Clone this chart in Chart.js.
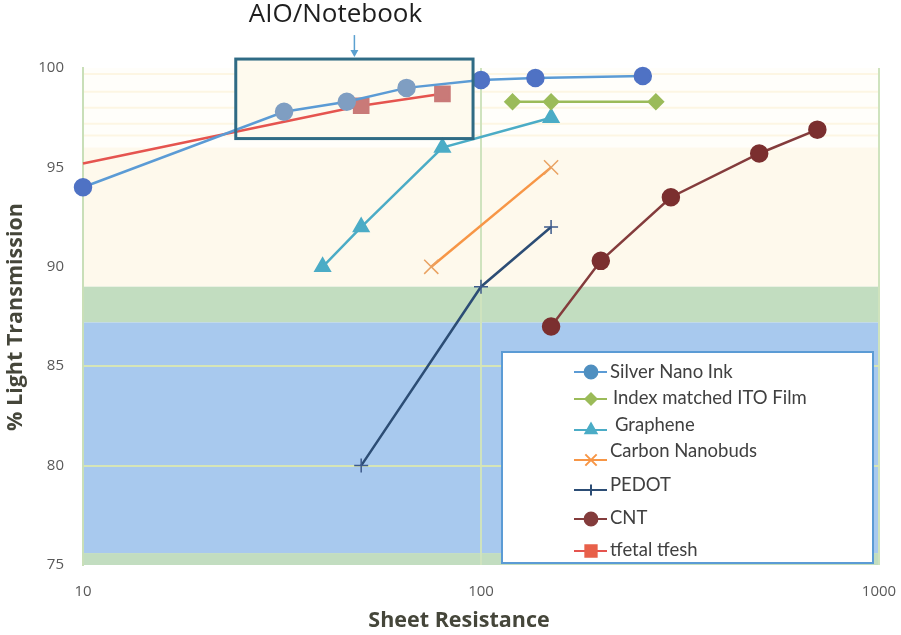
<!DOCTYPE html>
<html>
<head>
<meta charset="utf-8">
<script src="https://cdn.jsdelivr.net/npm/chart.js@4.4.0/dist/chart.umd.min.js"></script>
<style>
  html, body { margin: 0; padding: 0; background: #ffffff; }
  #wrap { width: 901px; height: 635px; position: relative; }
</style>
</head>
<body>
<div id="wrap"><canvas id="c" width="901" height="635"></canvas></div>
<script>
// ---- data ----
const seriesNames = ["Silver Nano Ink", "Index matched ITO Film", "Graphene", "Carbon Nanobuds", "PEDOT", "CNT", "tfetal tfesh"];
const silverX = [10, 32, 46, 65, 100, 137, 255];
const silverY = [94.0, 97.8, 98.3, 99.0, 99.4, 99.5, 99.6];
const itoX = [120, 150, 275];
const itoY = [98.3, 98.3, 98.3];
const grapheneX = [40, 50, 80, 150];
const grapheneY = [90.0, 92.0, 96.0, 97.5];
const nanobudsX = [75, 150];
const nanobudsY = [90.0, 95.0];
const pedotX = [50, 100, 150];
const pedotY = [80.0, 89.0, 92.0];
const cntX = [150, 200, 300, 500, 700];
const cntY = [87.0, 90.3, 93.5, 95.7, 96.9];
const tfeshX = [10, 50, 80];
const tfeshY = [95.2, 98.1, 98.7];
const xTickLabels = [10, 100, 1000];
const yMin = 75, yMax = 100, yStep = 5;
// background bands (value ranges)
const bands = [
  { from: 96.0, to: 100, color: "#FFFEFA" },
  { from: 89.0, to: 96.0, color: "#FEF9EC" },
  { from: 87.2, to: 89.0, color: "#C2DDC0" },
  { from: 75.6, to: 87.2, color: "#A8C9EE" },
  { from: 75.0, to: 75.6, color: "#C2DDC0" }
];
// AIO/Notebook highlight box in data units
const boxX = [24.2, 95.5];
const boxY = [96.45, 100.45];
const boxLabel = "AIO/Notebook";

function pts(xs, ys) { return xs.map((x, i) => ({ x: x, y: ys[i] })); }
function inBox(v) { return v && v.x >= boxX[0] && v.x <= boxX[1]; }

const datasets = [
  { label: seriesNames[0], data: pts(silverX, silverY), borderColor: "#5B9BD5", borderWidth: 2.5,
    pointStyle: "circle", pointRadius: 8,
    pointBackgroundColor: c => inBox(c.raw) ? "#7F9EC2" : "#4F72C4",
    pointBorderColor: c => inBox(c.raw) ? "#7F9EC2" : "#4F72C4", legendColor: "#4F8FC0" },
  { label: seriesNames[1], data: pts(itoX, itoY), borderColor: "#9BBB59", borderWidth: 2.5,
    pointStyle: "rectRot", pointRadius: 7, pointBackgroundColor: "#9BBB59", pointBorderColor: "#9BBB59" },
  { label: seriesNames[2], data: pts(grapheneX, grapheneY), borderColor: "#4BACC6", borderWidth: 2.5,
    pointStyle: "triangle", pointRadius: 8, pointBackgroundColor: "#4BACC6", pointBorderColor: "#4BACC6" },
  { label: seriesNames[3], data: pts(nanobudsX, nanobudsY), borderColor: "#F79646", borderWidth: 2.5,
    pointStyle: "crossRot", pointRadius: 10, pointBackgroundColor: "#F0A060", pointBorderColor: "#E9A262", pointBorderWidth: 1.5 },
  { label: seriesNames[4], data: pts(pedotX, pedotY), borderColor: "#2C4D75", borderWidth: 2.5,
    pointStyle: "cross", pointRadius: 7, pointBackgroundColor: "#3D5A8A", pointBorderColor: "#3D5A8A", pointBorderWidth: 1.5 },
  { label: seriesNames[5], data: pts(cntX, cntY), borderColor: "#843C3C", borderWidth: 2.5,
    pointStyle: "circle", pointRadius: 8, pointBackgroundColor: "#7B2F2F", pointBorderColor: "#7B2F2F" },
  { label: seriesNames[6], data: pts(tfeshX, tfeshY), borderColor: "#E5544F", borderWidth: 2.5,
    pointStyle: "rect", pointRadius: [0, 10, 10], pointBackgroundColor: "#C97A78", pointBorderColor: "#C97A78",
    legendColor: "#E8604A" }
];
datasets.forEach(d => { d.showLine = true; d.clip = false; d.tension = 0; d.pointHoverRadius = d.pointRadius; });

const AREA = { left: 83, right: 879, top: 68, bottom: 565 };

const bgPlugin = {
  id: "bg",
  beforeDraw(chart) {
    const { ctx, chartArea: a, scales: { x, y } } = chart;
    ctx.save();
    bands.forEach(b => {
      const y1 = y.getPixelForValue(b.to), y2 = y.getPixelForValue(b.from);
      ctx.fillStyle = b.color;
      ctx.fillRect(a.left, y1, a.right - a.left, y2 - y1);
    });
    // faint cream stripes in the top white region
    ctx.strokeStyle = "#FDF6E3"; ctx.lineWidth = 2;
    [96.6, 97.2, 98.0, 98.8, 99.7].forEach(v => {
      const py = y.getPixelForValue(v);
      ctx.beginPath(); ctx.moveTo(a.left, py); ctx.lineTo(a.right, py); ctx.stroke();
    });
    ctx.restore();
  },
  beforeDatasetsDraw(chart) {
    const { ctx, scales: { x, y } } = chart;
    const x1 = x.getPixelForValue(boxX[0]), x2 = x.getPixelForValue(boxX[1]);
    const y1 = y.getPixelForValue(boxY[1]), y2 = y.getPixelForValue(boxY[0]);
    ctx.save();
    ctx.fillStyle = "#FEFAEE";
    ctx.fillRect(x1, y1, x2 - x1, y2 - y1);
    ctx.restore();
  },
  afterDatasetsDraw(chart) {
    const { ctx, scales: { x, y } } = chart;
    const x1 = x.getPixelForValue(boxX[0]), x2 = x.getPixelForValue(boxX[1]);
    const y1 = y.getPixelForValue(boxY[1]), y2 = y.getPixelForValue(boxY[0]);
    ctx.save();
    ctx.strokeStyle = "#2F6B85"; ctx.lineWidth = 3;
    ctx.strokeRect(x1, y1, x2 - x1, y2 - y1);
    // arrow + label
    const cx = (x1 + x2) / 2;
    ctx.strokeStyle = "#5BA0D0"; ctx.fillStyle = "#5BA0D0"; ctx.lineWidth = 1.5;
    ctx.beginPath(); ctx.moveTo(cx, y1 - 24); ctx.lineTo(cx, y1 - 4); ctx.stroke();
    ctx.beginPath(); ctx.moveTo(cx - 4, y1 - 9); ctx.lineTo(cx + 4, y1 - 9); ctx.lineTo(cx, y1 - 2); ctx.closePath(); ctx.fill();
    ctx.fillStyle = "#1E1E1E";
    ctx.font = "26px 'Open Sans'";
    ctx.textAlign = "center"; ctx.textBaseline = "middle";
    ctx.fillText(boxLabel, cx - 19, 15);
    ctx.restore();
  },
  afterDraw(chart) {
    const { ctx } = chart;
    ctx.save();
    // axis titles
    ctx.fillStyle = "#45463A";
    ctx.font = "bold 21.5px 'Open Sans'";
    ctx.textAlign = "center"; ctx.textBaseline = "middle";
    ctx.fillText("Sheet Resistance", 459, 621);
    ctx.translate(16, 317); ctx.rotate(-Math.PI / 2);
    ctx.fillText("% Light Transmission", 0, 0);
    ctx.restore();

    // legend
    ctx.save();
    const L = { x: 502, y: 352, w: 371, h: 211 };
    ctx.fillStyle = "#FFFFFF";
    ctx.fillRect(L.x, L.y, L.w, L.h);
    ctx.strokeStyle = "#5B9BD5"; ctx.lineWidth = 2;
    ctx.strokeRect(L.x, L.y, L.w, L.h);
    const rows = [
      { sy: 372, ty: 372, tx: 610 },
      { sy: 399, ty: 398, tx: 613 },
      { sy: 430, ty: 425, tx: 615 },
      { sy: 460, ty: 451, tx: 610 },
      { sy: 490, ty: 485, tx: 610 },
      { sy: 519, ty: 518, tx: 610 },
      { sy: 551, ty: 550, tx: 610 }
    ];
    chart.data.datasets.forEach((d, i) => {
      const r = rows[i];
      const lc = d.legendColor || d.borderColor;
      ctx.strokeStyle = d.borderColor; ctx.lineWidth = 2;
      ctx.beginPath(); ctx.moveTo(574, r.sy); ctx.lineTo(607, r.sy); ctx.stroke();
      const pr = Array.isArray(d.pointRadius) ? d.pointRadius[1] : d.pointRadius;
      ctx.fillStyle = lc; ctx.strokeStyle = lc;
      Chart.helpers.drawPoint(ctx, {
        pointStyle: d.pointStyle, rotation: 0, radius: pr * 0.8,
        borderWidth: d.pointBorderWidth || 1
      }, 591, r.sy);
      ctx.fillStyle = "#404040";
      ctx.font = "18.5px Lato";
      ctx.textAlign = "left"; ctx.textBaseline = "middle";
      ctx.fillText(d.label, r.tx, r.ty);
    });
    ctx.restore();
  }
};

new Chart(document.getElementById("c"), {
  type: "scatter",
  data: { datasets: datasets },
  options: {
    responsive: false,
    animation: false,
    events: [],
    layout: { padding: { top: AREA.top, right: 901 - AREA.right, left: 0, bottom: 0 } },
    plugins: { legend: { display: false }, tooltip: { enabled: false } },
    scales: {
      x: {
        type: "logarithmic", min: 10, max: 1000,
        afterFit: s => { s.height = 635 - AREA.bottom; s.paddingRight = 0; s.paddingLeft = 0; },
        border: { display: false },
        grid: {
          drawTicks: false, lineWidth: 2,
          color: c => (c.tick && xTickLabels.includes(c.tick.value)) ? "#CFE3BE" : "rgba(0,0,0,0)"
        },
        ticks: {
          autoSkip: false, maxRotation: 0, padding: 18,
          color: "#595959", font: { family: "'Open Sans'", size: 15 },
          callback: v => xTickLabels.includes(v) ? String(v) : ""
        }
      },
      y: {
        min: yMin, max: yMax,
        afterFit: s => { s.width = AREA.left; s.paddingTop = 0; s.paddingBottom = 0; },
        border: { display: true, color: "#C9DFB8", width: 2 },
        grid: {
          drawTicks: false, lineWidth: 2,
          color: c => (c.tick && (c.tick.value === 80 || c.tick.value === 85)) ? "#D6E5B6" : "rgba(0,0,0,0)"
        },
        ticks: {
          stepSize: yStep, padding: 19,
          color: "#595959", font: { family: "'Open Sans'", size: 15 }
        }
      }
    }
  },
  plugins: [bgPlugin]
});
</script>
</body>
</html>
